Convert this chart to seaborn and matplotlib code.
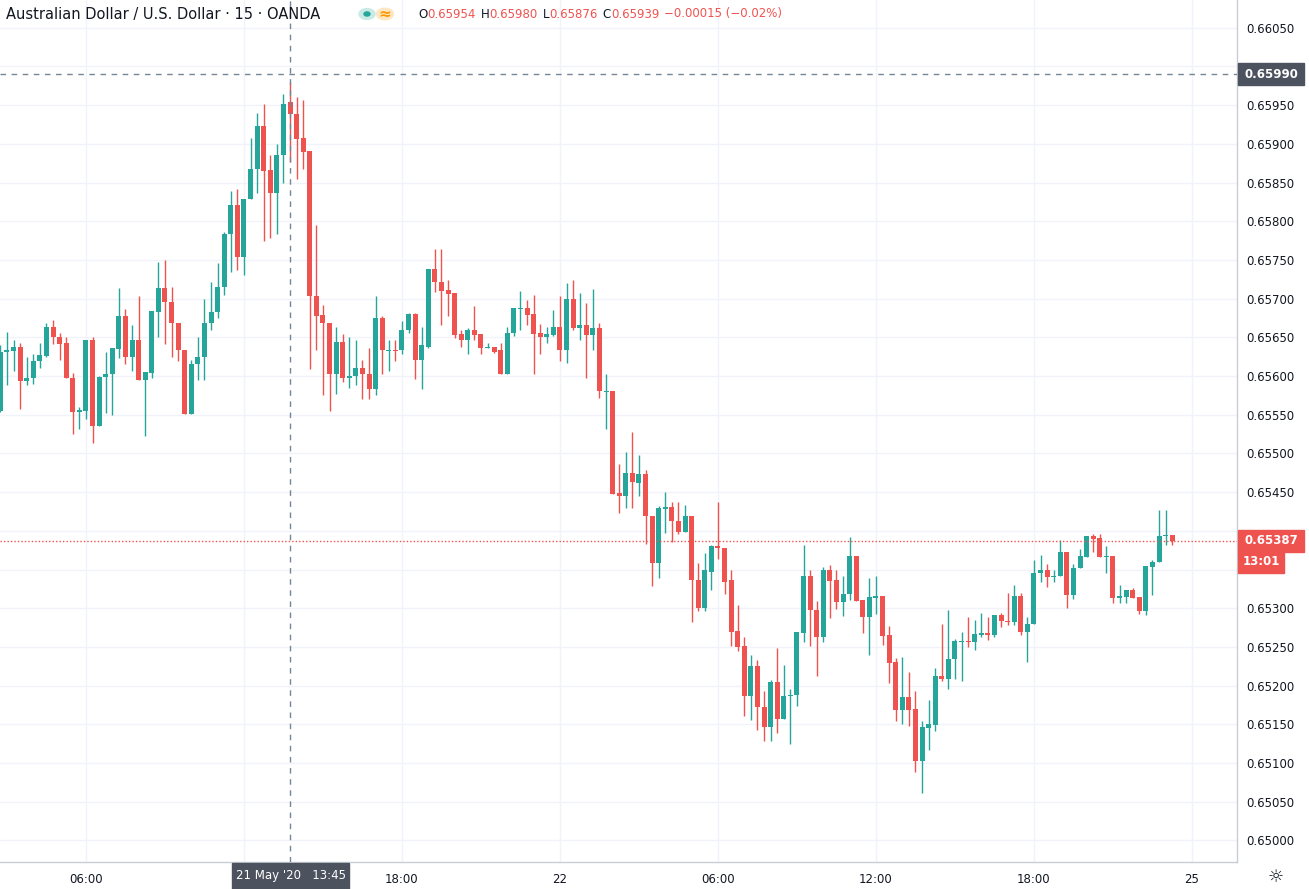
import numpy as np
import pandas as pd
import matplotlib
matplotlib.use("Agg")
import matplotlib.pyplot as plt
import seaborn as sns
from matplotlib.patches import Rectangle, Circle

# AUD/USD, 15-minute candles, OANDA
opens = [
    0.65555, 0.65631, 0.65632, 0.65637, 0.65593, 0.65598, 0.65619, 0.65626, 0.65663, 0.65650,
    0.65642, 0.65598, 0.65554, 0.65555, 0.65646, 0.65535, 0.65599, 0.65602, 0.65635, 0.65677,
    0.65624, 0.65647, 0.65595, 0.65604, 0.65683, 0.65714, 0.65695, 0.65669, 0.65634, 0.65551,
    0.65615, 0.65625, 0.65668, 0.65683, 0.65715, 0.65783, 0.65821, 0.65754, 0.65829, 0.65867,
    0.65923, 0.65866, 0.65837, 0.65886, 0.65954, 0.65938, 0.65907, 0.65891, 0.65704, 0.65679,
    0.65669, 0.65602, 0.65644, 0.65598, 0.65600, 0.65610, 0.65603, 0.65583, 0.65675, 0.65632,
    0.65634, 0.65633, 0.65659, 0.65680, 0.65621, 0.65638, 0.65738, 0.65722, 0.65711, 0.65707,
    0.65654, 0.65646, 0.65660, 0.65654, 0.65636, 0.65637, 0.65633, 0.65602, 0.65655, 0.65686,
    0.65688, 0.65680, 0.65655, 0.65650, 0.65653, 0.65663, 0.65633, 0.65699, 0.65662, 0.65666,
    0.65653, 0.65662, 0.65579, 0.65580, 0.65449, 0.65445, 0.65475, 0.65462, 0.65474, 0.65419,
    0.65359, 0.65428, 0.65431, 0.65413, 0.65398, 0.65419, 0.65337, 0.65300, 0.65347, 0.65380,
    0.65378, 0.65336, 0.65270, 0.65251, 0.65186, 0.65225, 0.65173, 0.65147, 0.65205, 0.65157,
    0.65187, 0.65188, 0.65268, 0.65342, 0.65298, 0.65263, 0.65349, 0.65336, 0.65308, 0.65318,
    0.65367, 0.65310, 0.65289, 0.65313, 0.65316, 0.65265, 0.65230, 0.65169, 0.65185, 0.65170,
    0.65102, 0.65145, 0.65149, 0.65213, 0.65209, 0.65234, 0.65256, 0.65257, 0.65256, 0.65265,
    0.65268, 0.65265, 0.65291, 0.65284, 0.65282, 0.65316, 0.65269, 0.65280, 0.65345, 0.65349,
    0.65340, 0.65342, 0.65372, 0.65317, 0.65352, 0.65366, 0.65393, 0.65391, 0.65366, 0.65367,
    0.65313, 0.65315, 0.65323, 0.65314, 0.65296, 0.65353, 0.65360, 0.65393, 0.65394,
]
highs = [
    0.65640, 0.65657, 0.65647, 0.65642, 0.65624, 0.65629, 0.65643, 0.65669, 0.65673, 0.65655,
    0.65650, 0.65604, 0.65560, 0.65646, 0.65650, 0.65600, 0.65631, 0.65636, 0.65714, 0.65686,
    0.65666, 0.65704, 0.65605, 0.65684, 0.65747, 0.65750, 0.65715, 0.65669, 0.65634, 0.65621,
    0.65651, 0.65699, 0.65721, 0.65746, 0.65786, 0.65839, 0.65842, 0.65829, 0.65907, 0.65940,
    0.65952, 0.65885, 0.65900, 0.65964, 0.65980, 0.65960, 0.65956, 0.65891, 0.65795, 0.65692,
    0.65669, 0.65663, 0.65654, 0.65650, 0.65647, 0.65621, 0.65636, 0.65704, 0.65678, 0.65647,
    0.65647, 0.65671, 0.65682, 0.65681, 0.65663, 0.65738, 0.65764, 0.65764, 0.65724, 0.65707,
    0.65659, 0.65662, 0.65691, 0.65654, 0.65643, 0.65637, 0.65643, 0.65663, 0.65688, 0.65710,
    0.65698, 0.65705, 0.65667, 0.65663, 0.65685, 0.65703, 0.65720, 0.65724, 0.65707, 0.65694,
    0.65713, 0.65668, 0.65602, 0.65580, 0.65486, 0.65502, 0.65528, 0.65498, 0.65478, 0.65419,
    0.65432, 0.65450, 0.65437, 0.65437, 0.65433, 0.65419, 0.65358, 0.65371, 0.65382, 0.65437,
    0.65378, 0.65349, 0.65304, 0.65263, 0.65239, 0.65233, 0.65193, 0.65207, 0.65249, 0.65227,
    0.65196, 0.65269, 0.65382, 0.65349, 0.65309, 0.65353, 0.65356, 0.65349, 0.65342, 0.65392,
    0.65367, 0.65310, 0.65339, 0.65342, 0.65316, 0.65277, 0.65236, 0.65237, 0.65217, 0.65193,
    0.65154, 0.65181, 0.65223, 0.65279, 0.65298, 0.65260, 0.65269, 0.65289, 0.65285, 0.65294,
    0.65288, 0.65291, 0.65294, 0.65320, 0.65330, 0.65320, 0.65288, 0.65362, 0.65369, 0.65357,
    0.65349, 0.65388, 0.65372, 0.65357, 0.65376, 0.65393, 0.65396, 0.65396, 0.65380, 0.65367,
    0.65330, 0.65323, 0.65326, 0.65314, 0.65354, 0.65362, 0.65427, 0.65427, 0.65394,
]
lows = [
    0.65553, 0.65588, 0.65606, 0.65558, 0.65588, 0.65590, 0.65610, 0.65625, 0.65641, 0.65621,
    0.65597, 0.65525, 0.65531, 0.65544, 0.65514, 0.65535, 0.65552, 0.65550, 0.65623, 0.65615,
    0.65606, 0.65595, 0.65523, 0.65597, 0.65650, 0.65641, 0.65625, 0.65620, 0.65551, 0.65551,
    0.65595, 0.65595, 0.65660, 0.65675, 0.65705, 0.65734, 0.65737, 0.65731, 0.65829, 0.65836,
    0.65775, 0.65778, 0.65784, 0.65849, 0.65876, 0.65855, 0.65867, 0.65609, 0.65633, 0.65576,
    0.65555, 0.65577, 0.65592, 0.65585, 0.65589, 0.65570, 0.65570, 0.65576, 0.65603, 0.65607,
    0.65620, 0.65628, 0.65655, 0.65596, 0.65583, 0.65636, 0.65708, 0.65666, 0.65677, 0.65649,
    0.65637, 0.65628, 0.65646, 0.65629, 0.65636, 0.65630, 0.65602, 0.65602, 0.65652, 0.65660,
    0.65666, 0.65602, 0.65629, 0.65642, 0.65652, 0.65620, 0.65617, 0.65660, 0.65647, 0.65597,
    0.65633, 0.65572, 0.65531, 0.65447, 0.65423, 0.65429, 0.65430, 0.65445, 0.65383, 0.65329,
    0.65339, 0.65397, 0.65386, 0.65396, 0.65398, 0.65282, 0.65296, 0.65296, 0.65324, 0.65363,
    0.65319, 0.65251, 0.65245, 0.65161, 0.65156, 0.65142, 0.65129, 0.65128, 0.65139, 0.65157,
    0.65125, 0.65174, 0.65256, 0.65251, 0.65213, 0.65256, 0.65287, 0.65299, 0.65290, 0.65311,
    0.65309, 0.65268, 0.65239, 0.65293, 0.65253, 0.65204, 0.65154, 0.65150, 0.65148, 0.65088,
    0.65061, 0.65117, 0.65141, 0.65206, 0.65196, 0.65209, 0.65206, 0.65250, 0.65246, 0.65263,
    0.65259, 0.65263, 0.65276, 0.65278, 0.65278, 0.65266, 0.65230, 0.65280, 0.65334, 0.65327,
    0.65334, 0.65342, 0.65300, 0.65312, 0.65352, 0.65366, 0.65373, 0.65366, 0.65345, 0.65307,
    0.65307, 0.65307, 0.65313, 0.65293, 0.65291, 0.65317, 0.65360, 0.65382, 0.65382,
]
closes = [
    0.65631, 0.65634, 0.65637, 0.65593, 0.65598, 0.65620, 0.65627, 0.65663, 0.65650, 0.65641,
    0.65597, 0.65554, 0.65556, 0.65646, 0.65535, 0.65599, 0.65602, 0.65636, 0.65677, 0.65624,
    0.65647, 0.65595, 0.65605, 0.65684, 0.65714, 0.65695, 0.65669, 0.65633, 0.65551, 0.65615,
    0.65625, 0.65668, 0.65683, 0.65715, 0.65783, 0.65821, 0.65754, 0.65829, 0.65867, 0.65923,
    0.65865, 0.65837, 0.65886, 0.65952, 0.65939, 0.65906, 0.65890, 0.65704, 0.65678, 0.65669,
    0.65602, 0.65644, 0.65598, 0.65600, 0.65610, 0.65602, 0.65583, 0.65675, 0.65633, 0.65634,
    0.65632, 0.65659, 0.65680, 0.65621, 0.65640, 0.65738, 0.65721, 0.65710, 0.65706, 0.65653,
    0.65646, 0.65660, 0.65653, 0.65636, 0.65638, 0.65631, 0.65602, 0.65656, 0.65688, 0.65688,
    0.65679, 0.65654, 0.65650, 0.65654, 0.65663, 0.65633, 0.65699, 0.65662, 0.65666, 0.65653,
    0.65662, 0.65580, 0.65581, 0.65448, 0.65445, 0.65475, 0.65463, 0.65474, 0.65419, 0.65359,
    0.65429, 0.65431, 0.65413, 0.65398, 0.65419, 0.65337, 0.65300, 0.65349, 0.65380, 0.65378,
    0.65334, 0.65269, 0.65250, 0.65186, 0.65225, 0.65172, 0.65147, 0.65205, 0.65157, 0.65187,
    0.65188, 0.65269, 0.65342, 0.65298, 0.65263, 0.65349, 0.65335, 0.65308, 0.65318, 0.65367,
    0.65309, 0.65289, 0.65314, 0.65316, 0.65264, 0.65229, 0.65169, 0.65185, 0.65169, 0.65102,
    0.65146, 0.65150, 0.65213, 0.65208, 0.65234, 0.65257, 0.65257, 0.65256, 0.65267, 0.65268,
    0.65265, 0.65291, 0.65283, 0.65282, 0.65316, 0.65269, 0.65280, 0.65346, 0.65349, 0.65340,
    0.65342, 0.65372, 0.65317, 0.65352, 0.65367, 0.65393, 0.65390, 0.65366, 0.65367, 0.65313,
    0.65316, 0.65323, 0.65313, 0.65296, 0.65354, 0.65360, 0.65393, 0.65394, 0.65387,
]

# time axis labels (candle index of each label)
tick_pos = [13, 37, 61, 85, 109, 133, 157, 181]
tick_labels = ["06:00", "12:00", "18:00", "22", "06:00", "12:00", "18:00", "25"]
price_ticks = [0.65000 + 0.0005 * n for n in range(22)]

cross_idx = 44          # hovered candle: 21 May '20 13:45
cross_price = 0.65990
last_price = 0.65387
header_ohlc = ["0.65954", "0.65980", "0.65876", "0.65939"]
header_change = "−0.00015 (−0.02%)"

df = pd.DataFrame({"open": opens, "high": highs, "low": lows, "close": closes})
df["i"] = np.arange(len(df))
df["high"] = df[["high", "open", "close"]].max(axis=1)
df["low"] = df[["low", "open", "close"]].min(axis=1)
df["up"] = df["close"] >= df["open"]

UP, DOWN = "#26a69a", "#ef5350"
TXT = "#131722"
GRID = "#f0f3fa"
TAG = "#4c525e"
W, H = 1309, 889

sns.set_theme(style="white")
plt.rcParams["font.family"] = ["DejaVu Sans"]

fig = plt.figure(figsize=(W / 100, H / 100), dpi=100)
ax = fig.add_axes([0, 27 / H, 1237 / W, 862 / H])
ax.set_xlim(-0.06, 187.84)
ax.set_ylim(0.649721, 0.660858)

for p in price_ticks:
    ax.axhline(p, color=GRID, lw=1, zorder=0)
for t in tick_pos:
    ax.axvline(t, color=GRID, lw=1, zorder=0)

colors = np.where(df["up"], UP, DOWN)
ax.vlines(df["i"], df["low"], df["high"], colors=colors, linewidth=1, zorder=3)
body_lo = df[["open", "close"]].min(axis=1)
body_h = (df["close"] - df["open"]).abs().clip(lower=0.000014)
ax.bar(df["i"], body_h, bottom=body_lo, width=0.76, color=colors, linewidth=0, zorder=4)

# crosshair and last price line
ax.axvline(cross_idx, color="#758696", lw=1, ls=(0, (4, 4)), zorder=5)
ax.axhline(cross_price, color="#758696", lw=1, ls=(0, (4, 4)), zorder=5)
ax.axhline(last_price, color=DOWN, lw=1, ls=(0, (1, 1.5)), zorder=5)

ax.yaxis.tick_right()
ax.set_yticks(price_ticks, [f"{p:.5f}" for p in price_ticks])
ax.set_xticks(tick_pos, tick_labels)
ax.tick_params(axis="y", length=0, pad=7, labelsize=8.5, labelcolor=TXT)
ax.tick_params(axis="x", length=0, pad=8, labelsize=8.5, labelcolor=TXT)
for s in ["top", "left"]:
    ax.spines[s].set_visible(False)
for s in ["right", "bottom"]:
    ax.spines[s].set_color("#c9ccd4")
    ax.spines[s].set_linewidth(1)

# labels that sit under the tags are hidden in the original
for p, lab in zip(price_ticks, ax.get_yticklabels()):
    if min(abs(p - cross_price), abs(p - last_price)) < 0.0002 and p != 0.65350:
        lab.set_visible(False)
    if abs(p - 0.65350) < 1e-9:
        lab.set_visible(False)
ax.get_xticklabels()[1].set_visible(False)


def price_tag(price, text, color, x0=1238, x1=1304, dy=0):
    yc = ax.transData.transform((0, price))[1] - dy
    yfig = yc / H
    fig.patches.append(Rectangle((x0 / W, yfig - 11 / H), (x1 - x0) / W, 22 / H,
                                 transform=fig.transFigure, color=color, zorder=10))
    fig.text((x0 + x1) / 2 / W, yfig, text, color="white", fontsize=8.5,
             ha="center", va="center", zorder=11, fontweight="bold")


price_tag(cross_price, "0.65990", TAG)
price_tag(last_price, "0.65387", DOWN)
price_tag(last_price, "13:01", DOWN, x0=1238, x1=1284, dy=21)

# crosshair time label
fig.patches.append(Rectangle((232 / W, 0), 117 / W, 26 / H, transform=fig.transFigure,
                             color=TAG, zorder=10))
fig.text(290.5 / W, 13 / H, "21 May '20   13:45", color="white", fontsize=8.5,
         ha="center", va="center", zorder=11)

# header
ytop = 1 - 14 / H
fig.text(6 / W, ytop, "Australian Dollar / U.S. Dollar · 15 · OANDA",
         color=TXT, fontsize=10.5, va="center")
fig.patches.append(Circle((367 / W, ytop), 8 / W, transform=fig.transFigure,
                          color="#c8ebe6", zorder=10))
fig.patches.append(Circle((367 / W, ytop), 3 / W, transform=fig.transFigure,
                          color=UP, zorder=11))
fig.patches.append(Circle((385 / W, ytop), 8.5 / W, transform=fig.transFigure,
                          color="#ffe7c4", zorder=10))
fig.text(385 / W, ytop, "≈", color="#ff9800", fontsize=11, ha="center",
         va="center", zorder=11, fontweight="bold")

renderer = fig.canvas.get_renderer()
x = 418
pieces = []
for letter, val in zip("OHLC", header_ohlc):
    pieces += [(letter, TXT, 0), (val, DOWN, 5)]
pieces.append((header_change, DOWN, 0))
for s, col, gap in pieces:
    t = fig.text(x / W, ytop, s, color=col, fontsize=8.5, va="center")
    x += t.get_window_extent(renderer).width + gap

fig.text(1276 / W, 12 / H, "☼", color=TXT, fontsize=13, ha="center", va="center")

fig.savefig("out.png", dpi=100)
